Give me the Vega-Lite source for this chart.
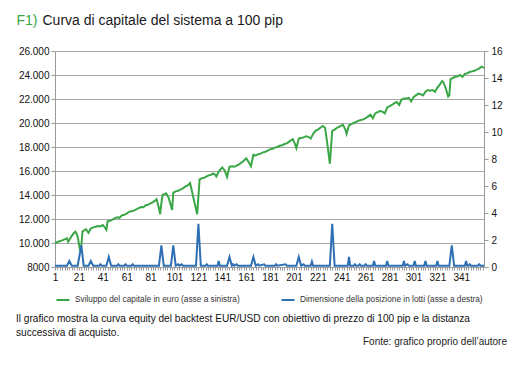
{
  "$schema": "https://vega.github.io/schema/vega-lite/v6.json",
  "background": "white",
  "padding": {"left": 16, "top": 13, "right": 8, "bottom": 5},
  "config": {
    "view": {"stroke": null},
    "font": "Liberation Sans",
    "axis": {"labelFont": "Liberation Sans", "labelFontSize": 10, "labelColor": "#111111", "domainColor": "#9a9a9a", "tickColor": "#9a9a9a", "gridColor": "#a9a9a9", "domainWidth": 1, "tickWidth": 1, "gridWidth": 1},
    "legend": {"labelFont": "Liberation Sans", "labelFontSize": 8.3, "labelColor": "#333333"}
  },
  "datasets": {
    "capitale": [
      {"x":1,"euro":10000},{"x":3,"euro":10080},{"x":5,"euro":10150},{"x":7,"euro":10220},{"x":9,"euro":10300},{"x":11,"euro":10380},{"x":12,"euro":10100},{"x":13,"euro":10250},{"x":15,"euro":10600},{"x":17,"euro":10850},{"x":18,"euro":10950},{"x":19,"euro":10800},{"x":20,"euro":10500},{"x":22,"euro":9400},{"x":23,"euro":9700},{"x":24,"euro":10950},{"x":26,"euro":11100},{"x":27,"euro":11150},{"x":29,"euro":10850},{"x":31,"euro":11200},{"x":33,"euro":11300},{"x":35,"euro":11350},{"x":37,"euro":11420},{"x":39,"euro":11380},{"x":41,"euro":11500},{"x":43,"euro":11250},{"x":44,"euro":11100},{"x":45,"euro":11800},{"x":47,"euro":11850},{"x":49,"euro":11950},{"x":51,"euro":12050},{"x":53,"euro":12150},{"x":55,"euro":12100},{"x":57,"euro":12300},{"x":59,"euro":12350},{"x":61,"euro":12450},{"x":63,"euro":12600},{"x":65,"euro":12650},{"x":67,"euro":12700},{"x":69,"euro":12800},{"x":71,"euro":12900},{"x":73,"euro":13000},{"x":75,"euro":12980},{"x":77,"euro":13150},{"x":79,"euro":13200},{"x":81,"euro":13300},{"x":83,"euro":13400},{"x":85,"euro":13550},{"x":86,"euro":13650},{"x":88,"euro":12900},{"x":89,"euro":12400},{"x":90,"euro":13300},{"x":91,"euro":14000},{"x":93,"euro":14100},{"x":94,"euro":14150},{"x":96,"euro":13800},{"x":98,"euro":13100},{"x":99,"euro":12750},{"x":100,"euro":14200},{"x":102,"euro":14300},{"x":104,"euro":14350},{"x":106,"euro":14450},{"x":108,"euro":14550},{"x":110,"euro":14700},{"x":112,"euro":14800},{"x":114,"euro":15000},{"x":117,"euro":13700},{"x":120,"euro":12400},{"x":122,"euro":15300},{"x":124,"euro":15400},{"x":126,"euro":15450},{"x":128,"euro":15550},{"x":130,"euro":15650},{"x":132,"euro":15700},{"x":133,"euro":15800},{"x":135,"euro":15700},{"x":136,"euro":15550},{"x":138,"euro":15950},{"x":140,"euro":16200},{"x":141,"euro":16300},{"x":143,"euro":16050},{"x":145,"euro":15500},{"x":147,"euro":16350},{"x":149,"euro":16400},{"x":151,"euro":16350},{"x":153,"euro":16450},{"x":155,"euro":16550},{"x":157,"euro":16700},{"x":159,"euro":16850},{"x":161,"euro":17050},{"x":163,"euro":16750},{"x":165,"euro":16400},{"x":167,"euro":17350},{"x":169,"euro":17300},{"x":171,"euro":17400},{"x":173,"euro":17450},{"x":175,"euro":17550},{"x":177,"euro":17600},{"x":179,"euro":17700},{"x":181,"euro":17800},{"x":183,"euro":17850},{"x":185,"euro":17950},{"x":187,"euro":18000},{"x":189,"euro":18100},{"x":191,"euro":18150},{"x":193,"euro":18250},{"x":195,"euro":18300},{"x":197,"euro":18450},{"x":199,"euro":18600},{"x":200,"euro":18650},{"x":202,"euro":18200},{"x":203,"euro":17900},{"x":205,"euro":18700},{"x":207,"euro":18750},{"x":209,"euro":18800},{"x":211,"euro":18900},{"x":213,"euro":18850},{"x":215,"euro":18700},{"x":217,"euro":19100},{"x":219,"euro":19350},{"x":221,"euro":19450},{"x":223,"euro":19600},{"x":225,"euro":19750},{"x":227,"euro":19600},{"x":229,"euro":18200},{"x":231,"euro":16600},{"x":233,"euro":19350},{"x":235,"euro":19450},{"x":237,"euro":19600},{"x":239,"euro":19700},{"x":241,"euro":19800},{"x":242,"euro":19850},{"x":244,"euro":19450},{"x":245,"euro":19100},{"x":247,"euro":19800},{"x":249,"euro":19900},{"x":251,"euro":20000},{"x":253,"euro":20100},{"x":255,"euro":20200},{"x":257,"euro":20250},{"x":259,"euro":20300},{"x":261,"euro":20400},{"x":263,"euro":20550},{"x":265,"euro":20700},{"x":267,"euro":20400},{"x":269,"euro":20800},{"x":271,"euro":20900},{"x":273,"euro":21000},{"x":275,"euro":20950},{"x":277,"euro":20800},{"x":279,"euro":21300},{"x":281,"euro":21400},{"x":283,"euro":21500},{"x":285,"euro":21650},{"x":287,"euro":21750},{"x":289,"euro":21500},{"x":291,"euro":21950},{"x":293,"euro":22050},{"x":295,"euro":22050},{"x":297,"euro":22100},{"x":299,"euro":21800},{"x":301,"euro":22150},{"x":303,"euro":22300},{"x":305,"euro":22450},{"x":307,"euro":22400},{"x":309,"euro":22300},{"x":311,"euro":22600},{"x":313,"euro":22750},{"x":315,"euro":22700},{"x":317,"euro":22750},{"x":319,"euro":22600},{"x":321,"euro":22950},{"x":323,"euro":23200},{"x":325,"euro":23500},{"x":326,"euro":23400},{"x":328,"euro":22900},{"x":330,"euro":22200},{"x":331,"euro":22300},{"x":332,"euro":23650},{"x":334,"euro":23750},{"x":336,"euro":23850},{"x":338,"euro":23900},{"x":340,"euro":24000},{"x":342,"euro":23850},{"x":344,"euro":24100},{"x":346,"euro":24150},{"x":348,"euro":24250},{"x":350,"euro":24300},{"x":352,"euro":24350},{"x":354,"euro":24450},{"x":356,"euro":24550},{"x":358,"euro":24700},{"x":360,"euro":24600}
    ],
    "lotti": [
      {"x":1,"lotti":0.1},{"x":11,"lotti":0.1},{"x":13,"lotti":0.45},{"x":15,"lotti":0.1},{"x":20,"lotti":0.1},{"x":23,"lotti":1.6},{"x":25,"lotti":0.1},{"x":29,"lotti":0.1},{"x":31,"lotti":0.45},{"x":33,"lotti":0.1},{"x":38,"lotti":0.1},{"x":39,"lotti":0.2},{"x":40,"lotti":0.1},{"x":44,"lotti":0.1},{"x":46,"lotti":0.75},{"x":48,"lotti":0.1},{"x":53,"lotti":0.1},{"x":54,"lotti":0.2},{"x":55,"lotti":0.1},{"x":59,"lotti":0.1},{"x":60,"lotti":0.2},{"x":61,"lotti":0.1},{"x":65,"lotti":0.1},{"x":66,"lotti":0.2},{"x":67,"lotti":0.1},{"x":88,"lotti":0.1},{"x":90,"lotti":1.6},{"x":92,"lotti":0.1},{"x":98,"lotti":0.1},{"x":100,"lotti":1.6},{"x":102,"lotti":0.1},{"x":104,"lotti":0.2},{"x":105,"lotti":0.1},{"x":107,"lotti":0.2},{"x":108,"lotti":0.1},{"x":119,"lotti":0.1},{"x":121,"lotti":3.2},{"x":123,"lotti":0.1},{"x":127,"lotti":0.1},{"x":128,"lotti":0.2},{"x":129,"lotti":0.1},{"x":137,"lotti":0.1},{"x":138,"lotti":0.45},{"x":139,"lotti":0.1},{"x":145,"lotti":0.1},{"x":147,"lotti":0.75},{"x":149,"lotti":0.1},{"x":150,"lotti":0.2},{"x":151,"lotti":0.1},{"x":153,"lotti":0.2},{"x":154,"lotti":0.1},{"x":165,"lotti":0.1},{"x":167,"lotti":0.75},{"x":169,"lotti":0.1},{"x":171,"lotti":0.2},{"x":172,"lotti":0.1},{"x":176,"lotti":0.2},{"x":177,"lotti":0.1},{"x":185,"lotti":0.1},{"x":186,"lotti":0.2},{"x":187,"lotti":0.1},{"x":194,"lotti":0.2},{"x":195,"lotti":0.1},{"x":203,"lotti":0.1},{"x":205,"lotti":0.75},{"x":207,"lotti":0.1},{"x":209,"lotti":0.2},{"x":210,"lotti":0.1},{"x":215,"lotti":0.1},{"x":216,"lotti":0.4},{"x":217,"lotti":0.1},{"x":231,"lotti":0.1},{"x":233,"lotti":3.2},{"x":235,"lotti":0.1},{"x":246,"lotti":0.1},{"x":247,"lotti":0.75},{"x":248,"lotti":0.1},{"x":251,"lotti":0.1},{"x":252,"lotti":0.2},{"x":253,"lotti":0.1},{"x":255,"lotti":0.1},{"x":256,"lotti":0.2},{"x":257,"lotti":0.1},{"x":260,"lotti":0.1},{"x":261,"lotti":0.2},{"x":262,"lotti":0.1},{"x":267,"lotti":0.1},{"x":268,"lotti":0.45},{"x":269,"lotti":0.1},{"x":278,"lotti":0.1},{"x":279,"lotti":0.45},{"x":280,"lotti":0.1},{"x":292,"lotti":0.1},{"x":293,"lotti":0.45},{"x":294,"lotti":0.1},{"x":296,"lotti":0.2},{"x":297,"lotti":0.1},{"x":301,"lotti":0.1},{"x":302,"lotti":0.45},{"x":303,"lotti":0.1},{"x":310,"lotti":0.1},{"x":311,"lotti":0.45},{"x":312,"lotti":0.1},{"x":320,"lotti":0.1},{"x":321,"lotti":0.45},{"x":322,"lotti":0.1},{"x":331,"lotti":0.1},{"x":333,"lotti":1.6},{"x":335,"lotti":0.1},{"x":344,"lotti":0.1},{"x":345,"lotti":0.45},{"x":346,"lotti":0.1},{"x":347,"lotti":0.1},{"x":348,"lotti":0.2},{"x":349,"lotti":0.1},{"x":355,"lotti":0.1},{"x":356,"lotti":0.2},{"x":357,"lotti":0.1},{"x":360,"lotti":0.1}
    ]
  },
  "title": {"text": "Fonte: grafico proprio dell’autore", "orient": "bottom", "anchor": "end", "frame": "bounds", "font": "Liberation Sans", "fontSize": 10, "fontWeight": "normal", "color": "#222222", "offset": -2},
  "spacing": 10,
  "resolve": {"scale": {"color": "independent"}, "legend": {"color": "independent"}},
  "vconcat": [
    {
      "width": 429,
      "height": 216,
      "encoding": {
        "x": {"field": "x", "type": "quantitative", "scale": {"domain": [1, 360], "nice": false, "zero": false},
          "axis": {"title": null, "grid": false, "values": [1,3,5,7,9,11,13,15,17,19,21,23,25,27,29,31,33,35,37,39,41,43,45,47,49,51,53,55,57,59,61,63,65,67,69,71,73,75,77,79,81,83,85,87,89,91,93,95,97,99,101,103,105,107,109,111,113,115,117,119,121,123,125,127,129,131,133,135,137,139,141,143,145,147,149,151,153,155,157,159,161,163,165,167,169,171,173,175,177,179,181,183,185,187,189,191,193,195,197,199,201,203,205,207,209,211,213,215,217,219,221,223,225,227,229,231,233,235,237,239,241,243,245,247,249,251,253,255,257,259,261,263,265,267,269,271,273,275,277,279,281,283,285,287,289,291,293,295,297,299,301,303,305,307,309,311,313,315,317,319,321,323,325,327,329,331,333,335,337,339,341,343,345,347,349,351,353,355,357,359],
            "labelExpr": "(datum.value - 1) % 20 == 0 ? datum.value : ''", "labelOverlap": false, "labelFlush": false, "labelBound": false, "tickSize": 3, "labelPadding": 2}}
      },
      "layer": [
        {
          "data": {"name": "capitale"},
          "mark": {"type": "line", "strokeWidth": 2, "color": "#3aa746"},
          "encoding": {
            "y": {"field": "euro", "type": "quantitative", "scale": {"domain": [8000, 26000], "nice": false, "zero": false},
              "axis": {"orient": "left", "values": [8000,10000,12000,14000,16000,18000,20000,22000,24000,26000],
                "labelExpr": "datum.value < 10000 ? format(datum.value, 'd') : format(datum.value / 1000, 'd') + '.000'",
                "grid": true, "tickSize": 4, "labelPadding": 2,
                "title": "F1)", "titleColor": "#3aa746", "titleFont": "Liberation Sans", "titleFontSize": 14, "titleFontWeight": "normal", "titleAngle": 0, "titleAlign": "left", "titleBaseline": "alphabetic", "titleX": -39, "titleY": -27}},
            "color": {"datum": "Sviluppo del capitale in euro (asse a sinistra)", "type": "nominal",
              "scale": {"domain": ["Sviluppo del capitale in euro (asse a sinistra)", "Dimensione della posizione in lotti (asse a destra)"], "range": ["#3aa746", "#2f6fb3"]},
              "legend": {"title": null, "orient": "bottom", "direction": "horizontal", "symbolType": "stroke", "symbolStrokeWidth": 2, "symbolSize": 170, "labelOffset": 4, "columnPadding": 37, "offset": 10, "labelLimit": 400}}
          }
        },
        {
          "data": {"name": "lotti"},
          "mark": {"type": "line", "strokeWidth": 2, "color": "#2f6fb3"},
          "encoding": {
            "y": {"field": "lotti", "type": "quantitative", "scale": {"domain": [0, 16], "nice": false, "zero": false},
              "axis": {"orient": "right", "values": [0,2,4,6,8,10,12,14,16], "grid": false, "tickSize": 4, "labelPadding": 3,
                "title": "Curva di capitale del sistema a 100 pip", "titleColor": "#1a1a1a", "titleFont": "Liberation Sans", "titleFontSize": 14, "titleFontWeight": "normal", "titleAngle": 0, "titleAlign": "left", "titleBaseline": "alphabetic", "titleX": -442, "titleY": -27}},
            "color": {"datum": "Dimensione della posizione in lotti (asse a destra)", "type": "nominal"}
          }
        }
      ],
      "resolve": {"scale": {"y": "independent"}}
    },
    {
      "width": 452,
      "height": 1,
      "data": {"values": []},
      "mark": "point",
      "title": {"text": ["Il grafico mostra la curva equity del backtest EUR/USD con obiettivo di prezzo di 100 pip e la distanza", "successiva di acquisto."], "anchor": "start", "frame": "bounds", "orient": "top", "dx": -39, "font": "Liberation Sans", "fontSize": 10.1, "fontWeight": "normal", "lineHeight": 13.5, "color": "#111111", "offset": 0}
    }
  ]
}
